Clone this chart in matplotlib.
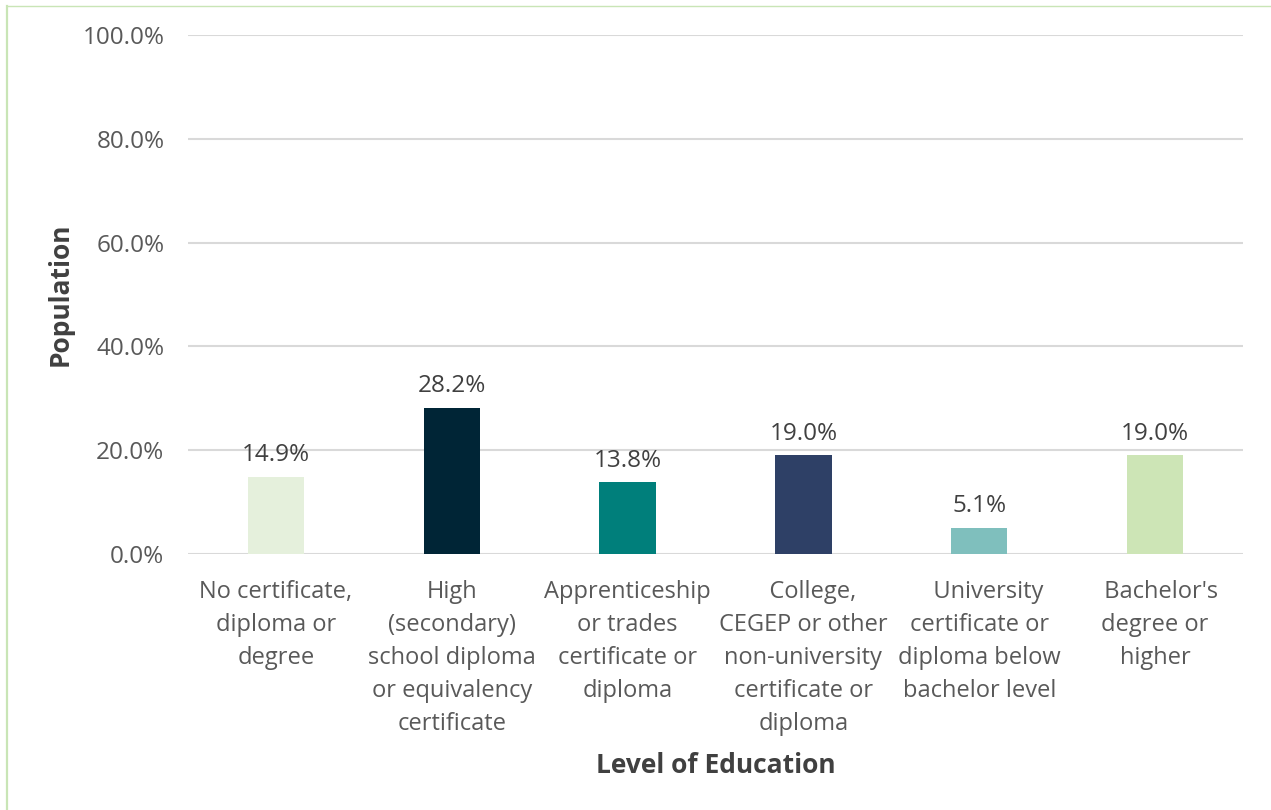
import matplotlib
matplotlib.use("Agg")
import matplotlib.pyplot as plt
from matplotlib.lines import Line2D
from matplotlib.ticker import FuncFormatter

plt.rcParams['font.family'] = ['Open Sans', 'DejaVu Sans']

categories = ["No certificate,\ndiploma or\ndegree",
              "High\n(secondary)\nschool diploma\nor equivalency\ncertificate",
              "Apprenticeship\nor trades\ncertificate or\ndiploma",
              "   College,\nCEGEP or other\nnon-university\ncertificate or\ndiploma",
              "   University\ncertificate or\ndiploma below\nbachelor level",
              "  Bachelor's\ndegree or\nhigher"]
values = [14.9, 28.2, 13.8, 19.0, 5.1, 19.0]
colors = ["#e5f0dc", "#002536", "#007f7b", "#2e4066", "#7fbfbd", "#cde5b6"]

W, H = 1271, 810
fig = plt.figure(figsize=(W/100, H/100), dpi=100)
ax = fig.add_axes([188/W, 1 - 554/H, 1055/W, (554 - 35)/H])

x = range(len(values))
bars = ax.bar(x, values, width=0.32, color=colors, zorder=3)
for b, v in zip(bars, values):
    ax.text(b.get_x() + b.get_width()/2, v + 1.9, "{:.1f}%".format(v),
            ha="center", va="bottom", fontsize=17.5, color="#404040")

ax.set_xlim(-0.5, len(values) - 0.5)
ax.set_ylim(0, 100)
ax.set_yticks([0, 20, 40, 60, 80, 100])
ax.yaxis.set_major_formatter(FuncFormatter(lambda v, p: "{:.1f}%".format(v)))
ax.grid(axis="y", color="#d9d9d9", linewidth=1.5, zorder=0)
ax.set_xticks(list(x))
ax.set_xticklabels(categories, fontsize=17, color="#595959", linespacing=1.49)
ax.tick_params(axis="y", labelsize=17.5, labelcolor="#595959", length=0, pad=17)
ax.tick_params(axis="x", length=0, pad=19)
for s in ax.spines.values():
    s.set_visible(False)

ax.set_ylabel("Population", fontsize=19, fontweight="bold", color="#404040", labelpad=6)
ax.set_xlabel("Level of Education", fontsize=19, fontweight="bold", color="#404040", labelpad=12)

# light green frame, left and top only
fig.lines.append(Line2D([7/W, 7/W], [0, 1 - 6/H], transform=fig.transFigure,
                        color="#c9e5b6", linewidth=1.6))
fig.lines.append(Line2D([7/W, 1], [1 - 6/H, 1 - 6/H], transform=fig.transFigure,
                        color="#c9e5b6", linewidth=1.0))

fig.savefig("out.png", dpi=100)
